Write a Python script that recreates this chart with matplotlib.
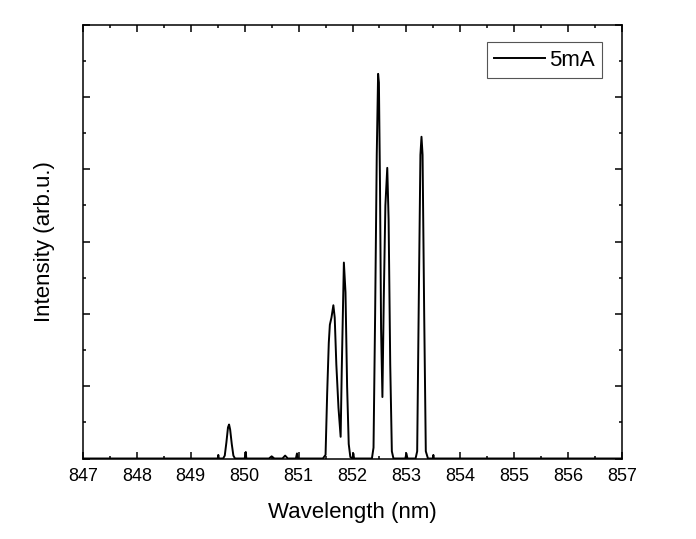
import matplotlib
matplotlib.use("Agg")
import matplotlib.pyplot as plt
from matplotlib.ticker import MultipleLocator, NullFormatter

plt.rcParams['font.family'] = ['Liberation Sans', 'DejaVu Sans']

wavelength = [847.00, 849.50, 849.51, 849.52, 849.60, 849.63, 849.66, 849.69, 849.71, 849.73,
              849.76, 849.79, 849.82, 850.00, 850.02, 850.03, 850.45, 850.50, 850.55, 850.70,
              850.75, 850.80, 850.95, 850.97, 850.99, 851.45, 851.50, 851.53, 851.56, 851.58,
              851.61, 851.645, 851.67, 851.70, 851.74, 851.78, 851.80, 851.84, 851.87, 851.90,
              851.93, 851.96, 852.00, 852.015, 852.03, 852.36, 852.39, 852.42, 852.45, 852.475,
              852.49, 852.51, 852.53, 852.555, 852.58, 852.61, 852.645, 852.67, 852.70, 852.73,
              852.76, 852.98, 853.00, 853.02, 853.17, 853.20, 853.23, 853.26, 853.28, 853.30,
              853.33, 853.36, 853.40, 853.49, 853.50, 853.51, 857.00]
intensity = [0.00, 0.00, 0.05, 0.00, 0.00, 0.04, 0.22, 0.43, 0.47, 0.40,
             0.20, 0.04, 0.00, 0.00, 0.09, 0.00, 0.00, 0.03, 0.00, 0.00,
             0.04, 0.00, 0.00, 0.07, 0.00, 0.00, 0.05, 0.90, 1.60, 1.85,
             1.95, 2.12, 1.95, 1.30, 0.70, 0.30, 1.20, 2.71, 2.30, 1.00,
             0.20, 0.02, 0.00, 0.07, 0.00, 0.00, 0.15, 2.00, 4.20, 5.32,
             5.20, 3.80, 1.80, 0.85, 2.20, 3.50, 4.02, 3.30, 1.30, 0.10,
             0.00, 0.00, 0.07, 0.00, 0.00, 0.10, 2.20, 4.20, 4.45, 4.20,
             2.00, 0.10, 0.00, 0.00, 0.05, 0.00, 0.00]
series_label = "5mA"
x_ticks = [847, 848, 849, 850, 851, 852, 853, 854, 855, 856, 857]

fig = plt.figure(figsize=(6.96, 5.39), dpi=100)
ax = fig.add_axes([83/696, 1-458.5/539, (622-83)/696, (458.5-24.7)/539])
ax.plot(wavelength, intensity, color='black', lw=1.4, label=series_label)
ax.set_xlim(847, 857)
ax.set_ylim(0, 6)
ax.set_xticks(x_ticks)
ax.xaxis.set_minor_locator(MultipleLocator(0.5))
ax.yaxis.set_major_locator(MultipleLocator(1))
ax.yaxis.set_minor_locator(MultipleLocator(0.5))
ax.yaxis.set_major_formatter(NullFormatter())
ax.tick_params(which='both', direction='in', top=True, right=True, width=1.1, labelsize=13)
ax.tick_params(which='major', length=5, pad=7)
ax.tick_params(which='minor', length=2.5)
for s in ax.spines.values():
    s.set_linewidth(1.1)
ax.set_xlabel("Wavelength (nm)", fontsize=16, labelpad=12)
ax.set_ylabel("Intensity (arb.u.)", fontsize=16, labelpad=13)
leg = ax.legend(loc='upper right', bbox_to_anchor=(0.962, 0.959), borderaxespad=0,
                fontsize=16, fancybox=False, framealpha=1,
                edgecolor='#555555', handlelength=2.3,
                handletextpad=0.15, borderpad=0.32)
leg.get_frame().set_linewidth(0.8)
fig.savefig("out.png", dpi=100)
